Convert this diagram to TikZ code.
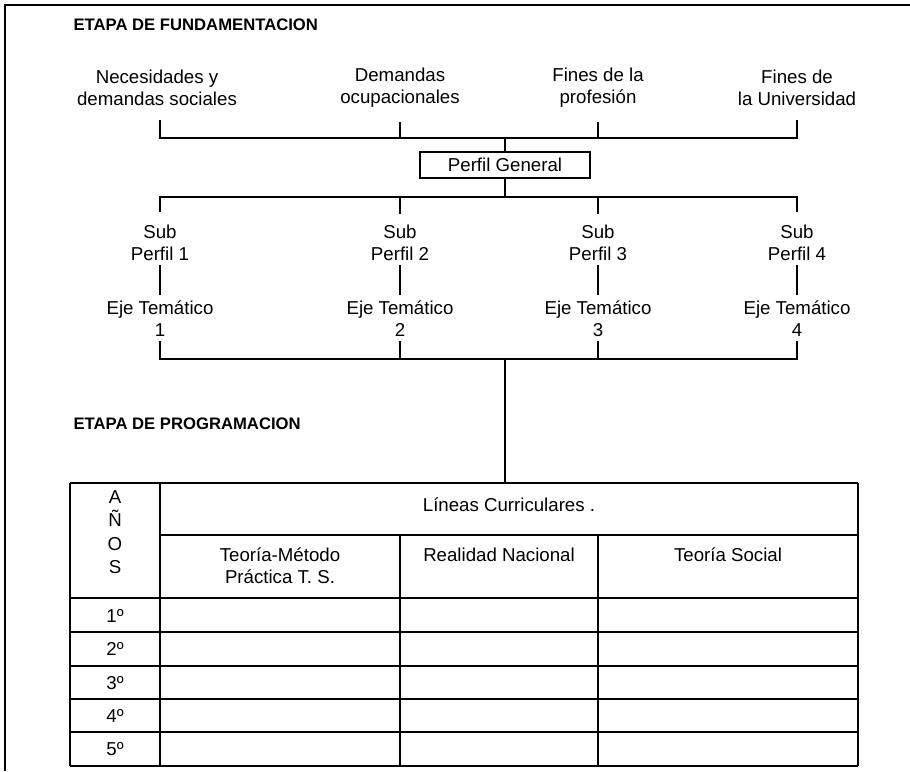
\documentclass[tikz,border=0pt]{standalone}
\usepackage{fontspec}
\setmainfont{Liberation Sans}
\begin{document}
\begin{tikzpicture}[x=0.75pt,y=-0.75pt,line width=0.8pt,
  lbl/.style={align=center,font=\fontsize{14}{16.5}\selectfont,inner sep=0pt},
  ttl/.style={anchor=west,font=\bfseries\fontsize{12.5}{15}\selectfont,inner sep=0pt},
  pbox/.style={draw,line width=0.8pt,minimum width=127.5pt,minimum height=19.5pt,inner sep=0pt,font=\fontsize{14}{16.5}\selectfont},
  link/.style={draw=black,line width=0.8pt},
  grid/.style={draw=black,line width=0.8pt}]
\useasboundingbox (0,0) rectangle (910,771);
% frame
\draw[grid] (910,5) -- (5,5) -- (5,771);
% titles
\node[ttl] (t1) at (73,25) {ETAPA DE FUNDAMENTACION};
\node[ttl] (t2) at (73,424) {ETAPA DE PROGRAMACION};
% top labels
\node[lbl] (n1) at (157,88) {Necesidades y\\demandas sociales};
\node[lbl] (n2) at (400,88) {Demandas\\ocupacionales};
\node[lbl] (n3) at (598,88) {Fines de la\\profesión};
\node[lbl] (n4) at (797,88) {Fines de\\la Universidad};
\coordinate (a1) at (160,120); \coordinate (b1) at (160,138);
\coordinate (a2) at (400,122); \coordinate (b2) at (400,138);
\coordinate (a3) at (598,122); \coordinate (b3) at (598,138);
\coordinate (a4) at (797,120); \coordinate (b4) at (797,138);
\coordinate (bc) at (505,138);
\draw[link] (a1) -- (b1) -- (b4) -- (a4);
\draw[link] (a2) -- (b2);
\draw[link] (a3) -- (b3);
% perfil general
\node[pbox] (pg) at (505,165) {Perfil General};
\draw[link] (bc) -- (pg.north);
\coordinate (cc) at (505,197);
\coordinate (c1) at (160,197); \coordinate (d1) at (160,212);
\coordinate (c2) at (400,197); \coordinate (d2) at (400,214);
\coordinate (c3) at (598,197); \coordinate (d3) at (598,214);
\coordinate (c4) at (797,197); \coordinate (d4) at (797,212);
\draw[link] (pg.south) -- (cc);
\draw[link] (d1) -- (c1) -- (c4) -- (d4);
\draw[link] (c2) -- (d2);
\draw[link] (c3) -- (d3);
% sub perfiles
\node[lbl] (s1) at (160,243) {Sub\\Perfil 1};
\node[lbl] (s2) at (400,243) {Sub\\Perfil 2};
\node[lbl] (s3) at (598,243) {Sub\\Perfil 3};
\node[lbl] (s4) at (797,243) {Sub\\Perfil 4};
\node[lbl] (e1) at (160,319) {Eje Temático\\1};
\node[lbl] (e2) at (400,319) {Eje Temático\\2};
\node[lbl] (e3) at (598,319) {Eje Temático\\3};
\node[lbl] (e4) at (797,319) {Eje Temático\\4};
\foreach \i/\x in {1/160,2/400,3/598,4/797}{
  \coordinate (u\i) at (\x,265); \coordinate (v\i) at (\x,295);
  \draw[link] (u\i) -- (v\i);
  \coordinate (f\i) at (\x,341); \coordinate (g\i) at (\x,359);
}
\draw[link] (f1) -- (g1) -- (g4) -- (f4);
\draw[link] (f2) -- (g2);
\draw[link] (f3) -- (g3);
\coordinate (gc) at (505,359);
\coordinate (tt) at (505,483);
\draw[link] (gc) -- (tt);
% table
\draw[grid] (70,483) -- (858,483);
\draw[grid] (160,535) -- (858,535);
\foreach \y in {598,632,666,699,732,766}{\draw[grid] (70,\y) -- (858,\y);}
\draw[grid] (70,483) -- (70,766);
\draw[grid] (160,483) -- (160,766);
\draw[grid] (400,535) -- (400,766);
\draw[grid] (598,535) -- (598,766);
\draw[grid] (858,483) -- (858,766);
\node[lbl] (lc) at (509,505) {Líneas Curriculares .};
\node[lbl,font=\fontsize{14}{17.5}\selectfont] (anos) at (115,532) {A\\Ñ\\O\\S};
\node[lbl,anchor=north] (c1h) at (280,547) {Teoría-Método\\Práctica T. S.};
\node[lbl,anchor=north] (c2h) at (499,547) {Realidad Nacional};
\node[lbl,anchor=north] (c3h) at (728,547) {Teoría Social};
\node[lbl] (r1) at (115,616) {1º};
\node[lbl] (r2) at (115,649) {2º};
\node[lbl] (r3) at (115,683) {3º};
\node[lbl] (r4) at (115,716) {4º};
\node[lbl] (r5) at (115,749) {5º};
\end{tikzpicture}
\end{document}
